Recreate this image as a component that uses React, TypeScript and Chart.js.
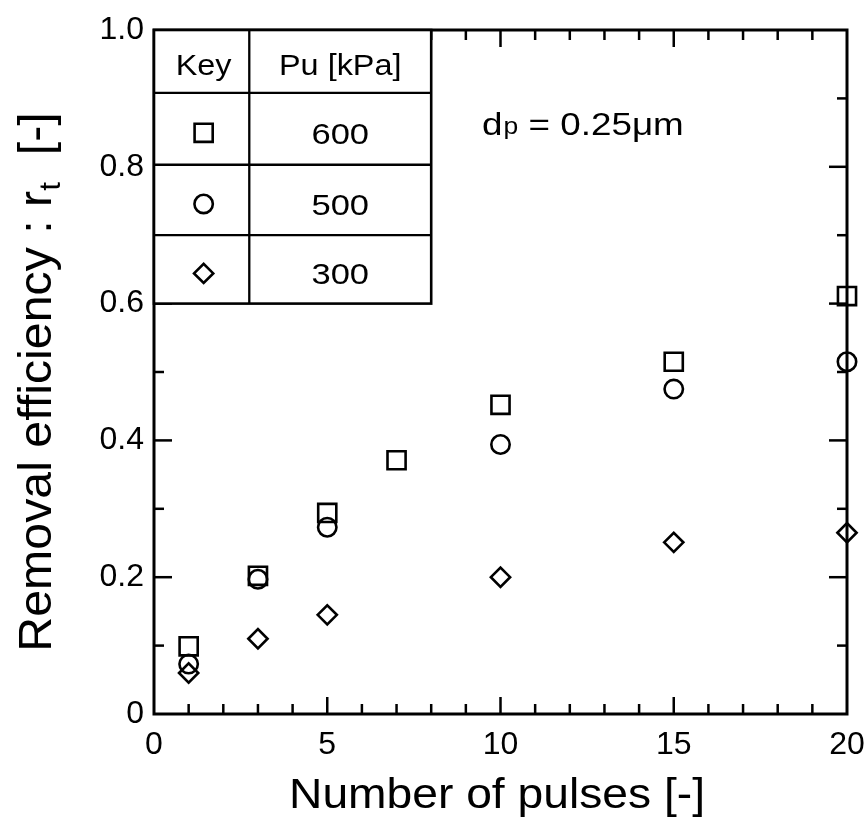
import React, { useEffect, useRef } from 'react';
import { Chart, registerables } from 'chart.js';

Chart.register(...registerables);

// ---- data ----
const pulses600 = [1, 3, 5, 7, 10, 15, 20];
const eff600 = [0.099, 0.202, 0.294, 0.371, 0.452, 0.515, 0.611];
const pulses500 = [1, 3, 5, 10, 15, 20];
const eff500 = [0.073, 0.197, 0.273, 0.394, 0.475, 0.515];
const pulses300 = [1, 3, 5, 10, 15, 20];
const eff300 = [0.06, 0.11, 0.145, 0.2, 0.251, 0.265];

const pressureLabels = ['600', '500', '300'];
const keyHeader = 'Key';
const pressureHeader = 'Pu [kPa]';
const xTitle = 'Number of pulses [-]';
const yTitleMain = 'Removal efficiency : r';
const yTitleSub = 't';
const yTitleEnd = '  [-]';
const dpMain = 'd';
const dpSub = 'p';
const dpRest = ' = 0.25\u03BCm';

const FONT = '"Liberation Sans", Arial, Helvetica, sans-serif';

const SQUARE_R = 12.8;
const CIRCLE_R = 9.2;
const DIAMOND_R = 9.6;
const MARK_W = 2.6;

function drawMarker(ctx: CanvasRenderingContext2D, style: string, x: number, y: number) {
  ctx.beginPath();
  if (style === 'rect') {
    const s = SQUARE_R * Math.SQRT1_2;
    ctx.rect(x - s, y - s, 2 * s, 2 * s);
  } else if (style === 'circle') {
    ctx.arc(x, y, CIRCLE_R, 0, Math.PI * 2);
  } else {
    ctx.moveTo(x - DIAMOND_R, y);
    ctx.lineTo(x, y - DIAMOND_R);
    ctx.lineTo(x + DIAMOND_R, y);
    ctx.lineTo(x, y + DIAMOND_R);
    ctx.closePath();
  }
  ctx.stroke();
}

const framePlugin = {
  id: 'frameTicks',
  beforeDatasetsDraw(chart: any) {
    const { ctx, chartArea } = chart;
    const { left, right, top, bottom } = chartArea;
    const xs = chart.scales.x;
    const ys = chart.scales.y;
    ctx.save();
    ctx.strokeStyle = '#000';
    ctx.lineCap = 'butt';
    ctx.lineWidth = 2.5;
    const line = (x1: number, y1: number, x2: number, y2: number) => {
      ctx.beginPath();
      ctx.moveTo(x1, y1);
      ctx.lineTo(x2, y2);
      ctx.stroke();
    };
    for (let v = 1; v < 20; v++) {
      const px = xs.getPixelForValue(v);
      const len = v % 5 === 0 ? 17 : 10;
      line(px, bottom, px, bottom - len);
      line(px, top, px, top + len);
    }
    for (let i = 1; i < 10; i++) {
      const py = ys.getPixelForValue(i / 10);
      const len = i % 2 === 0 ? 18 : 10;
      line(left, py, left + len, py);
      line(right, py, right - len, py);
    }
    ctx.lineWidth = 3;
    ctx.strokeRect(left, top, right - left, bottom - top);
    ctx.restore();
  },
  afterDatasetsDraw(chart: any) {
    const { ctx } = chart;
    const xs = chart.scales.x;
    const ys = chart.scales.y;
    ctx.save();
    ctx.fillStyle = '#000';
    ctx.strokeStyle = '#000';

    // ---- key table ----
    const tl = xs.getPixelForValue(0);
    const tr = xs.getPixelForValue(8);
    const tc = xs.getPixelForValue(2.75);
    const rows = [1.0, 0.908, 0.803, 0.7, 0.6].map((v) => ys.getPixelForValue(v));
    ctx.fillStyle = '#fff';
    ctx.fillRect(tl, rows[0], tr - tl, rows[4] - rows[0]);
    ctx.fillStyle = '#000';
    ctx.lineWidth = 2.6;
    ctx.strokeRect(tl, rows[0], tr - tl, rows[4] - rows[0]);
    ctx.lineWidth = 2.3;
    ctx.beginPath();
    ctx.moveTo(tc, rows[0]);
    ctx.lineTo(tc, rows[4]);
    for (let i = 1; i < 4; i++) {
      ctx.moveTo(tl, rows[i]);
      ctx.lineTo(tr, rows[i]);
    }
    ctx.stroke();

    const c1 = (tl + tc) / 2 + 2;
    const c2 = (tc + tr) / 2;
    ctx.font = `30px ${FONT}`;
    ctx.textAlign = 'center';
    ctx.textBaseline = 'alphabetic';
    const txt = (s: string, x: number, y: number, sx = 1.08) => {
      ctx.save();
      ctx.translate(x, y);
      ctx.scale(sx, 1);
      ctx.fillText(s, 0, 0);
      ctx.restore();
    };
    const headBase = rows[0] + 45;
    txt(keyHeader, c1, headBase);
    txt(pressureHeader, c2, headBase);
    const styles = ['rect', 'circle', 'rectRot'];
    for (let i = 0; i < 3; i++) {
      const mid = (rows[i + 1] + rows[i + 2]) / 2 + 4;
      txt(pressureLabels[i], c2, mid + 11, 1.15);
      ctx.lineWidth = MARK_W;
      drawMarker(ctx, styles[i], c1, mid);
    }

    // ---- particle size annotation ----
    ctx.textAlign = 'left';
    ctx.save();
    ctx.translate(482, 135);
    ctx.scale(1.15, 1);
    ctx.font = `32px ${FONT}`;
    ctx.fillText(dpMain, 0, 0);
    let w = ctx.measureText(dpMain).width;
    ctx.font = `23px ${FONT}`;
    ctx.fillText(dpSub, w + 1, -1);
    w += ctx.measureText(dpSub).width + 1;
    ctx.font = `32px ${FONT}`;
    ctx.fillText(dpRest, w, 0);
    ctx.restore();

    // ---- x title ----
    ctx.save();
    ctx.translate(497, 808);
    ctx.scale(1.1, 1);
    ctx.font = `42px ${FONT}`;
    ctx.textAlign = 'center';
    ctx.fillText(xTitle, 0, 0);
    ctx.restore();

    // ---- y title (with subscript) ----
    ctx.save();
    ctx.translate(51, 382);
    ctx.rotate(-Math.PI / 2);
    ctx.scale(1.05, 1);
    ctx.textAlign = 'left';
    ctx.font = `46px ${FONT}`;
    const wMain = ctx.measureText(yTitleMain).width;
    const wEnd = ctx.measureText(yTitleEnd).width;
    ctx.font = `30px ${FONT}`;
    const wSub = ctx.measureText(yTitleSub).width;
    const total = wMain + wSub + wEnd;
    let x0 = -total / 2;
    ctx.font = `46px ${FONT}`;
    ctx.fillText(yTitleMain, x0, 0);
    x0 += wMain;
    ctx.font = `30px ${FONT}`;
    ctx.fillText(yTitleSub, x0, 9);
    x0 += wSub;
    ctx.font = `46px ${FONT}`;
    ctx.fillText(yTitleEnd, x0, 0);
    ctx.restore();

    ctx.restore();
  },
};

function toPoints(xs: number[], ys: number[]) {
  return xs.map((x, i) => ({ x, y: ys[i] }));
}

export default function App() {
  const ref = useRef<HTMLCanvasElement | null>(null);
  useEffect(() => {
    if (!ref.current) return;
    const common = {
      showLine: false,
      borderColor: '#000',
      backgroundColor: 'rgba(0,0,0,0)',
      pointBackgroundColor: 'rgba(0,0,0,0)',
      pointBorderColor: '#000',
      pointBorderWidth: MARK_W,
      clip: false,
    };
    const chart = new Chart(ref.current, {
      type: 'scatter',
      data: {
        datasets: [
          { ...common, label: pressureLabels[0], data: toPoints(pulses600, eff600), pointStyle: 'rect', pointRadius: SQUARE_R },
          { ...common, label: pressureLabels[1], data: toPoints(pulses500, eff500), pointStyle: 'circle', pointRadius: CIRCLE_R },
          { ...common, label: pressureLabels[2], data: toPoints(pulses300, eff300), pointStyle: 'rectRot', pointRadius: DIAMOND_R },
        ],
      },
      options: {
        responsive: false,
        animation: false,
        events: [],
        layout: { padding: { top: 30, right: 20, left: 0, bottom: 0 } },
        plugins: { legend: { display: false }, tooltip: { enabled: false } },
        scales: {
          x: {
            type: 'linear',
            min: 0,
            max: 20,
            ticks: {
              stepSize: 5,
              color: '#000',
              font: { size: 32, family: FONT },
              padding: 12,
              maxRotation: 0,
            },
            grid: { display: false, drawTicks: false },
            border: { display: false },
            afterFit: (s: any) => {
              s.height = 118;
              s.paddingLeft = 0;
              s.paddingRight = 0;
            },
          },
          y: {
            type: 'linear',
            min: 0,
            max: 1,
            ticks: {
              stepSize: 0.2,
              color: '#000',
              font: { size: 32, family: FONT },
              padding: 10,
              callback: (v: any) => (Number(v) === 0 ? '0' : Number(v).toFixed(1)),
            },
            grid: { display: false, drawTicks: false },
            border: { display: false },
            afterFit: (s: any) => {
              s.width = 154;
              s.paddingTop = 0;
              s.paddingBottom = 0;
            },
          },
        },
      },
      plugins: [framePlugin],
    } as any);
    return () => chart.destroy();
  }, []);
  return (
    <div style={{ position: 'fixed', left: 0, top: 0, width: 867, height: 832, background: '#fff' }}>
      <canvas ref={ref} width={867} height={832} style={{ display: 'block' }} />
    </div>
  );
}
